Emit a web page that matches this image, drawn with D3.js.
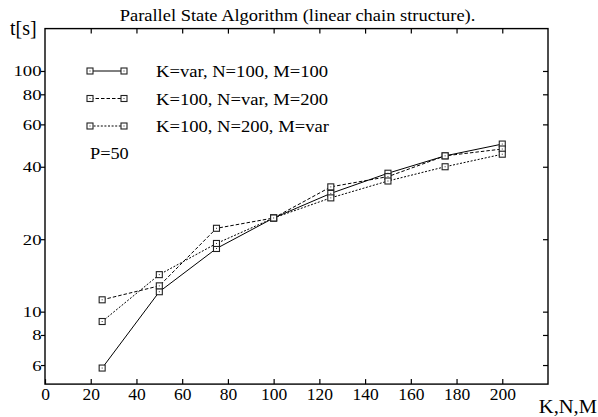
<!DOCTYPE html>
<html><head><meta charset="utf-8">
<script src="https://cdn.jsdelivr.net/npm/d3@7"></script>
<style>
body{margin:0;background:#fff;}
</style></head>
<body><svg id="c" width="598" height="417"></svg>
<script>
const xValues = [25, 50, 75, 100, 125, 150, 175, 200];
const seriesK = [5.83, 12.1, 18.3, 24.5, 31.0, 37.6, 44.4, 49.7];
const seriesN = [11.2, 12.8, 22.2, 24.5, 33.0, 36.4, 44.4, 47.4];
const seriesM = [9.1, 14.25, 19.2, 24.5, 29.7, 34.9, 40.0, 45.1];
const seriesNames = ["K=var, N=100, M=100", "K=100, N=var, M=200", "K=100, N=200, M=var"];
const xTicks = [0, 20, 40, 60, 80, 100, 120, 140, 160, 180, 200];
const yTicks = [6, 8, 10, 20, 40, 60, 80, 100];
const title = "Parallel State Algorithm (linear chain structure).";

const FONT = "'Liberation Serif', 'DejaVu Serif', 'Times New Roman', Times, serif";
const svg = d3.select("#c");
const L = 45, R = 548, T = 28.6, B = 384.1;
const x = d3.scaleLinear().domain([0, 220]).range([L, R]);
const y = d3.scaleLog().domain([5, 150]).range([B, T]);

const dashes = [null, "3.5,2", "2,1.6"];
const all = [seriesK, seriesN, seriesM];

svg.append("rect").attr("x", L).attr("y", T).attr("width", R - L).attr("height", B - T)
  .attr("fill", "none").attr("stroke", "#000").attr("stroke-width", 1.4);

const gb = svg.append("g").attr("transform", `translate(0,${B})`)
  .call(d3.axisBottom(x).tickValues(xTicks).tickSizeInner(-5).tickSizeOuter(0).tickPadding(4).tickFormat(d3.format("d")));
const gt = svg.append("g").attr("transform", `translate(0,${T})`)
  .call(d3.axisTop(x).tickValues(xTicks.filter(d => d > 0)).tickSizeInner(-5).tickSizeOuter(0).tickFormat(""));
const gl = svg.append("g").attr("transform", `translate(${L},0)`)
  .call(d3.axisLeft(y).tickValues(yTicks).tickSizeInner(4).tickSizeOuter(0).tickPadding(0).tickFormat(d3.format("d")));
const gr = svg.append("g").attr("transform", `translate(${R},0)`)
  .call(d3.axisRight(y).tickValues(yTicks).tickSizeInner(-5).tickSizeOuter(0).tickFormat(""));
[gb, gt, gl, gr].forEach(g => {
  g.attr("font-family", null).attr("font-size", null);
  g.select(".domain").remove();
  g.selectAll(".tick line").attr("stroke", "#000").attr("stroke-width", 1.2);
  g.selectAll("text").style("font-family", FONT).attr("fill", "#000");
});
gb.selectAll("text").style("font-size", "17.5px").attr("dy", null).attr("y", 16);
gl.selectAll("text").style("font-size", "17px").attr("x", 0).attr("dy", null)
  .attr("transform", "translate(-3.5,5) scale(1.1,0.87)");

const line = d3.line().x((d, i) => x(xValues[i])).y(d => y(d));
all.forEach((s, k) => {
  svg.append("path").datum(s).attr("d", line).attr("fill", "none")
    .attr("stroke", "#000").attr("stroke-width", 1)
    .attr("stroke-dasharray", dashes[k]);
});
function marker(cx, cy) {
  svg.append("rect").attr("x", cx - 3).attr("y", cy - 3).attr("width", 6).attr("height", 6)
    .attr("fill", "#fff").attr("stroke", "#222").attr("stroke-width", 1.1);
  svg.append("rect").attr("x", cx - 0.5).attr("y", cy - 0.5).attr("width", 1).attr("height", 1).attr("fill", "#333");
}
all.forEach(s => s.forEach((v, i) => marker(x(xValues[i]), y(v))));

function txt(xp, yp, s, size, anchor, sx) {
  return svg.append("text").attr("x", 0).attr("y", 0)
    .attr("transform", `translate(${xp},${yp}) scale(${sx || 1},1)`)
    .attr("text-anchor", anchor || "start")
    .style("font-family", FONT).style("font-size", size + "px").attr("fill", "#000").text(s);
}
const legY = [71, 98.5, 126];
seriesNames.forEach((name, k) => {
  svg.append("line").attr("x1", 90).attr("x2", 124).attr("y1", legY[k]).attr("y2", legY[k])
    .attr("stroke", "#000").attr("stroke-width", 1).attr("stroke-dasharray", dashes[k]);
  marker(90, legY[k]); marker(124, legY[k]);
  txt(156, legY[k] + 6.3, name, 17.6, "start", 1.057);
});
txt(90, 159.3, "P=50", 17.6, "start", 1.04);
txt(297.5, 20.7, title, 16.2, "middle", 1.14);
txt(10, 35, "t[s]", 20, "start", 1);
txt(597, 412.5, "K,N,M", 19, "end", 1.08);
</script></body></html>
